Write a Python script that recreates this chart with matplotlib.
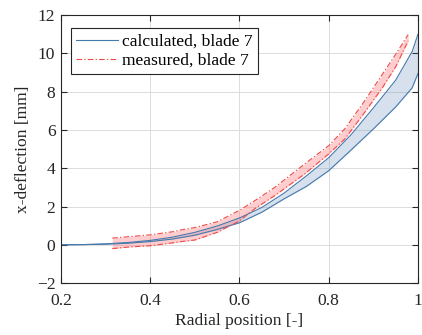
import numpy as np
import matplotlib
matplotlib.use('Agg')
import matplotlib.pyplot as plt

# calculated band (blade 7)
x_calc = [0.2, 0.25, 0.3, 0.35, 0.4, 0.45, 0.5, 0.55, 0.6, 0.65, 0.7, 0.75,
          0.8, 0.85, 0.9, 0.95, 0.987, 1.0]
calc_hi = [0.0, 0.01, 0.05, 0.12, 0.23, 0.4, 0.65, 0.98, 1.4, 1.95, 2.7, 3.6,
           4.55, 5.75, 7.15, 8.6, 10.1, 11.0]
calc_lo = [0.0, 0.01, 0.03, 0.08, 0.17, 0.3, 0.5, 0.8, 1.15, 1.7, 2.4, 3.05,
           3.87, 4.95, 6.05, 7.2, 8.2, 8.95]

# measured band (blade 7)
x_meas = [0.315, 0.35, 0.4, 0.45, 0.47, 0.5, 0.55, 0.6, 0.634, 0.679, 0.746,
          0.8, 0.836, 0.88, 0.92, 0.95, 0.978]
meas_hi = [0.35, 0.42, 0.52, 0.68, 0.78, 0.9, 1.2, 1.8, 2.3, 3.0, 4.22,
           5.18, 6.06, 7.5, 8.9, 9.95, 10.98]
meas_lo = [-0.2, -0.12, -0.05, 0.1, 0.17, 0.25, 0.65, 1.25, 1.88, 2.57, 3.7,
           4.75, 5.53, 6.9, 8.2, 9.3, 10.65]

plt.rcParams['font.family'] = ['Liberation Serif', 'DejaVu Serif']
plt.rcParams['font.size'] = 12.6

blue = '#4679ad'
red = '#ee4a4a'
axcol = '#262626'

fig = plt.figure(figsize=(4.22, 3.35), dpi=100)
ax = fig.add_axes([0.1445, 0.155, 0.846, 0.80])

ax.fill_between(x_calc, calc_lo, calc_hi, color=blue, alpha=0.22, lw=0)
ax.plot(x_calc, calc_hi, color=blue, lw=0.8, label='calculated, blade 7')
ax.plot(x_calc, calc_lo, color=blue, lw=0.8)

ax.fill_between(x_meas, meas_lo, meas_hi, color='#ff5c5c', alpha=0.3, lw=0)
dd = (0, (5, 2, 1.2, 2))
ax.plot(x_meas, meas_hi, color=red, lw=0.8, ls=dd, label='measured, blade 7')
ax.plot(x_meas, meas_lo, color=red, lw=0.8, ls=dd)

ax.set_xlim(0.2, 1.0)
ax.set_ylim(-2, 12)
ax.set_xticks([0.2, 0.4, 0.6, 0.8, 1.0])
ax.set_xticklabels(['0.2', '0.4', '0.6', '0.8', '1'])
ax.set_yticks(range(-2, 13, 2))
ax.grid(True, color='#dcdcdc', lw=0.7)
ax.set_axisbelow(True)

for s in ax.spines.values():
    s.set_color(axcol)
    s.set_linewidth(0.8)
ax.tick_params(direction='in', top=True, right=True, length=4, width=0.8,
               color=axcol, labelcolor=axcol)
ax.tick_params(axis='x', pad=7)
ax.tick_params(axis='y', pad=4)

ax.set_xlabel('Radial position [-]', color=axcol, labelpad=3)
ax.set_ylabel('x-deflection [mm]', color=axcol, labelpad=4)

leg = ax.legend(loc='upper left', bbox_to_anchor=(0.012, 0.97), fancybox=False,
                framealpha=1, edgecolor=axcol, handlelength=2.4,
                borderpad=0.3, labelspacing=0.15, handletextpad=0.25,
                borderaxespad=0.3)
leg.get_frame().set_linewidth(0.8)

fig.savefig('out.png', dpi=100)
